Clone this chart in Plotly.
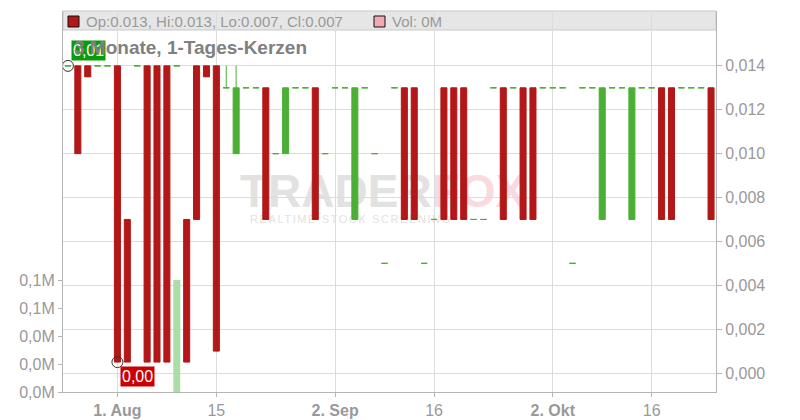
import base64
import plotly.graph_objects as go

# ---------------- data ----------------
dates = [
    "2024-07-25", "2024-07-26", "2024-07-29", "2024-07-30", "2024-07-31",
    "2024-08-01", "2024-08-02", "2024-08-05", "2024-08-06", "2024-08-07",
    "2024-08-08", "2024-08-09", "2024-08-12", "2024-08-13", "2024-08-14",
    "2024-08-15", "2024-08-16", "2024-08-19", "2024-08-20", "2024-08-21",
    "2024-08-22", "2024-08-23", "2024-08-26", "2024-08-27", "2024-08-28",
    "2024-08-29", "2024-08-30", "2024-09-02", "2024-09-03", "2024-09-04",
    "2024-09-05", "2024-09-06", "2024-09-09", "2024-09-10", "2024-09-11",
    "2024-09-12", "2024-09-13", "2024-09-16", "2024-09-17", "2024-09-18",
    "2024-09-19", "2024-09-20", "2024-09-23", "2024-09-24", "2024-09-25",
    "2024-09-26", "2024-09-27", "2024-09-30", "2024-10-01", "2024-10-02",
    "2024-10-03", "2024-10-04", "2024-10-07", "2024-10-08", "2024-10-09",
    "2024-10-10", "2024-10-11", "2024-10-14", "2024-10-15", "2024-10-16",
    "2024-10-17", "2024-10-18", "2024-10-21", "2024-10-22", "2024-10-23",
    "2024-10-24",
]
opens = [
    0.014, 0.014, 0.014, 0.014, 0.014,
    0.014, 0.007, 0.014, 0.014, 0.014,
    0.014, 0.014, 0.007, 0.014, 0.014,
    0.014, 0.013, 0.010, 0.013, 0.013,
    0.013, 0.010, 0.010, 0.013, 0.013,
    0.013, 0.010, 0.013, 0.013, 0.007,
    0.013, 0.010, 0.005, 0.013, 0.013,
    0.013, 0.005, 0.007, 0.013, 0.013,
    0.013, 0.007, 0.007, 0.013, 0.013,
    0.013, 0.013, 0.013, 0.013, 0.013,
    0.013, 0.005, 0.013, 0.013, 0.007,
    0.013, 0.013, 0.007, 0.013, 0.013,
    0.013, 0.013, 0.013, 0.013, 0.013,
    0.013,
]
highs = [
    0.014, 0.014, 0.014, 0.014, 0.014,
    0.014, 0.007, 0.014, 0.014, 0.014,
    0.014, 0.014, 0.007, 0.014, 0.014,
    0.014, 0.014, 0.014, 0.013, 0.013,
    0.013, 0.010, 0.013, 0.013, 0.013,
    0.013, 0.010, 0.013, 0.013, 0.013,
    0.013, 0.010, 0.005, 0.013, 0.013,
    0.013, 0.005, 0.007, 0.013, 0.013,
    0.013, 0.007, 0.007, 0.013, 0.013,
    0.013, 0.013, 0.013, 0.013, 0.013,
    0.013, 0.005, 0.013, 0.013, 0.013,
    0.013, 0.013, 0.013, 0.013, 0.013,
    0.013, 0.013, 0.013, 0.013, 0.013,
    0.013,
]
lows = [
    0.014, 0.010, 0.0135, 0.014, 0.014,
    0.0005, 0.0005, 0.014, 0.0005, 0.0005,
    0.0005, 0.014, 0.0005, 0.007, 0.0135,
    0.001, 0.013, 0.010, 0.013, 0.013,
    0.007, 0.010, 0.010, 0.013, 0.013,
    0.007, 0.010, 0.013, 0.013, 0.007,
    0.013, 0.010, 0.005, 0.013, 0.007,
    0.007, 0.005, 0.007, 0.007, 0.007,
    0.007, 0.007, 0.007, 0.013, 0.007,
    0.013, 0.007, 0.007, 0.013, 0.013,
    0.013, 0.005, 0.013, 0.013, 0.007,
    0.013, 0.013, 0.007, 0.013, 0.013,
    0.007, 0.007, 0.013, 0.013, 0.013,
    0.007,
]
closes = [
    0.014, 0.010, 0.0135, 0.014, 0.014,
    0.0005, 0.0005, 0.014, 0.0005, 0.0005,
    0.0005, 0.014, 0.0005, 0.007, 0.0135,
    0.001, 0.013, 0.013, 0.013, 0.013,
    0.007, 0.010, 0.013, 0.013, 0.013,
    0.007, 0.010, 0.013, 0.013, 0.013,
    0.013, 0.010, 0.005, 0.013, 0.007,
    0.007, 0.005, 0.007, 0.007, 0.007,
    0.007, 0.007, 0.007, 0.013, 0.007,
    0.013, 0.007, 0.007, 0.013, 0.013,
    0.013, 0.005, 0.013, 0.013, 0.013,
    0.013, 0.013, 0.013, 0.013, 0.013,
    0.007, 0.007, 0.013, 0.013, 0.013,
    0.007,
]
volumes = [0] * 11 + [80000] + [0] * 54

tick_dates = ["2024-08-01", "2024-08-15", "2024-09-02", "2024-09-16", "2024-10-02", "2024-10-16"]
tick_labels = ["<b>1. Aug</b>", "15", "<b>2. Sep</b>", "16", "<b>2. Okt</b>", "16"]
price_ticks = [0.000, 0.002, 0.004, 0.006, 0.008, 0.010, 0.012, 0.014]
vol_ticks = [0, 20000, 40000, 60000, 80000]
vol_tick_labels = ["0,0M", "0,0M", "0,0M", "0,1M", "0,1M"]
title_text = "3 Monate, 1-Tages-Kerzen"

# ---------------- styles ----------------
RED = "#b31717"
GREEN = "#4caf35"
VOL_UP = "#a9dea5"
VOL_DOWN = "#f2a9b3"
GRID = "#dcdcdc"
AXIS = "#b4b4b4"
TXT = "#999999"
FONT = "Arial, Liberation Sans, sans-serif"

# plot area in pixels (for layout decorations)
PX_L, PX_R, PX_T, PX_B = 63, 716, 11, 392
PW, PH = PX_R - PX_L, PX_B - PX_T


def px(xp):
    return (xp - PX_L) / PW


def py(yp):
    return (PX_B - yp) / PH


n = len(dates)
up_idx = [i for i in range(n) if closes[i] >= opens[i]]
dn_idx = [i for i in range(n) if closes[i] < opens[i]]


def pick(arr, idx):
    return [arr[i] for i in idx]


fig = go.Figure()

# volume (base axis, drawn beneath the candles)
fig.add_trace(go.Bar(
    x=dates, y=volumes, width=0.7,
    marker=dict(color=[VOL_UP if closes[i] >= opens[i] else VOL_DOWN for i in range(n)],
                line=dict(width=0)),
    xaxis="x", yaxis="y", hoverinfo="skip",
))

for idx, col in ((up_idx, GREEN), (dn_idx, RED)):
    fig.add_trace(go.Candlestick(
        x=pick(dates, idx), open=pick(opens, idx), high=pick(highs, idx),
        low=pick(lows, idx), close=pick(closes, idx),
        increasing=dict(line=dict(color=col, width=1), fillcolor=col),
        decreasing=dict(line=dict(color=col, width=1), fillcolor=col),
        whiskerwidth=0, xaxis="x", yaxis="y2", hoverinfo="skip",
    ))

# high / low markers
i_hi = max(range(n), key=lambda i: (highs[i], -i))
i_lo = min(range(n), key=lambda i: (lows[i], i))
fig.add_trace(go.Scatter(
    x=[dates[i_hi], dates[i_lo]], y=[highs[i_hi], lows[i_lo]],
    mode="markers", xaxis="x", yaxis="y2", hoverinfo="skip",
    marker=dict(symbol="circle-open", size=11, color="#333333", line=dict(width=1)),
))


def fmt(v):
    return f"{v:.2f}".replace(".", ",")


annotations = [
    dict(x=i_hi, y=highs[i_hi], xref="x", yref="y2",
         text=fmt(highs[i_hi]), showarrow=False, xanchor="left", yanchor="bottom",
         xshift=3, yshift=5, bgcolor="#0a9a0a", borderpad=1,
         font=dict(family=FONT, size=16, color="white")),
    dict(x=i_lo, y=lows[i_lo], xref="x", yref="y2",
         text=fmt(lows[i_lo]), showarrow=False, xanchor="left", yanchor="top",
         xshift=3, yshift=-4, bgcolor="#cc0000", borderpad=1,
         font=dict(family=FONT, size=16, color="white")),
    dict(x=px(72), y=py(47), xref="paper", yref="paper", text=f"<b>{title_text}</b>",
         showarrow=False, xanchor="left", yanchor="middle",
         font=dict(family=FONT, size=19, color="#808080")),
    dict(x=px(84), y=py(21), xref="paper", yref="paper",
         text=f"Op:{opens[-1]}, Hi:{highs[-1]}, Lo:{lows[-1]}, Cl:{closes[-1]}",
         showarrow=False, xanchor="left", yanchor="middle",
         font=dict(family=FONT, size=15, color=TXT)),
    dict(x=px(390), y=py(21), xref="paper", yref="paper",
         text=f"Vol: {round(volumes[-1] / 1e6)}M",
         showarrow=False, xanchor="left", yanchor="middle",
         font=dict(family=FONT, size=15, color=TXT)),
]

shapes = [
    dict(type="rect", xref="paper", yref="paper", x0=0, x1=1, y0=py(30), y1=1,
         fillcolor="#e6e6e6", line=dict(color="#c8c8c8", width=1), layer="below"),
    dict(type="rect", xref="paper", yref="paper", x0=px(68), x1=px(79), y0=py(27), y1=py(16),
         fillcolor=RED, line=dict(color="#111111", width=1)),
    dict(type="rect", xref="paper", yref="paper", x0=px(374), x1=px(385), y0=py(27), y1=py(16),
         fillcolor=VOL_DOWN, line=dict(color="#111111", width=1)),
]

svg = (
    '<svg xmlns="http://www.w3.org/2000/svg" width="300" height="60" viewBox="0 0 300 60">'
    '<text x="4" y="37" font-family="Liberation Sans, Arial, sans-serif" font-weight="bold" '
    'font-size="46" fill="#e2e2e2">TRADER<tspan fill="#f9dade">FOX</tspan></text>'
    '<text x="14" y="53" font-family="Liberation Sans, Arial, sans-serif" font-size="11" '
    'letter-spacing="1.6" fill="#e2e2e2">REALTIME STOCK SCREENING</text>'
    '</svg>'
)
wm_src = "data:image/svg+xml;base64," + base64.b64encode(svg.encode()).decode()

fig.update_layout(
    width=800, height=420,
    margin=dict(l=PX_L, r=800 - PX_R, t=PX_T, b=420 - PX_B, pad=0),
    paper_bgcolor="white", plot_bgcolor="white",
    separators=",.",
    showlegend=False,
    barmode="overlay",
    boxgap=0.39, boxgroupgap=0,
    font=dict(family=FONT, size=16, color=TXT),
    annotations=annotations,
    shapes=shapes,
    images=[dict(source=wm_src, xref="paper", yref="paper", x=px(236), y=py(170),
                 sizex=300 / PW, sizey=60 / PH, xanchor="left", yanchor="top",
                 sizing="stretch", layer="below", opacity=1)],
    xaxis=dict(
        type="category", categoryorder="array", categoryarray=dates,
        range=[-0.5, n - 0.5], tickvals=tick_dates, ticktext=tick_labels,
        showgrid=True, gridcolor=GRID, gridwidth=1,
        showline=True, linecolor=AXIS, linewidth=1,
        ticks="outside", ticklen=4, tickcolor=AXIS,
        rangeslider=dict(visible=False), fixedrange=True, automargin=False,
        tickfont=dict(family=FONT, size=16, color=TXT),
    ),
    yaxis=dict(
        side="left", range=[0, PH / 28 * 20000],
        tickvals=vol_ticks, ticktext=vol_tick_labels,
        showgrid=False, zeroline=False, automargin=False,
        showline=True, linecolor=AXIS, linewidth=1,
        ticks="outside", ticklen=4, tickcolor=AXIS,
        tickfont=dict(family=FONT, size=16, color=TXT),
    ),
    yaxis2=dict(
        overlaying="y", side="right", automargin=False,
        range=[-(PX_B - 373) / 44 * 0.002, 0.014 + (66 - PX_T) / 44 * 0.002],
        tickvals=price_ticks, tickformat=".3f",
        showgrid=True, gridcolor=GRID, gridwidth=1, zeroline=False,
        showline=True, linecolor=AXIS, linewidth=1,
        ticks="outside", ticklen=5, tickcolor=AXIS,
        tickfont=dict(family=FONT, size=16, color=TXT),
    ),
)

fig.write_html(
    "out.html",
    config={"displayModeBar": False, "responsive": False},
    post_script="document.body.style.margin='0';document.body.style.padding='0';"
                "document.body.style.overflow='hidden';",
)
